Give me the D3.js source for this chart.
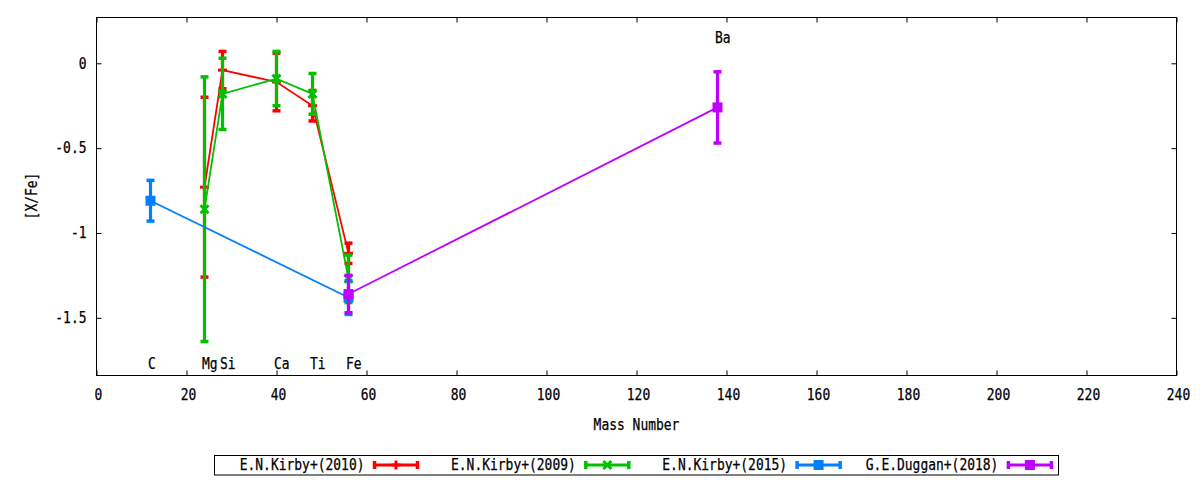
<!DOCTYPE html>
<html lang="en">
  <head>
    <meta charset="UTF-8" />
    <title>[X/Fe] vs Mass Number</title>
    <script src="https://cdn.jsdelivr.net/npm/d3@7"></script>
    <style>
      body { margin: 0; background: #fff; }
      svg { display: block; }
      text { font-family: "DejaVu Sans Mono", monospace; font-size: 15px; fill: #000; stroke: #000; stroke-width: 0.25px; }
    </style>
  </head>
  <body>
    <svg width="1200" height="480"></svg>
    <script>
      // element labels, placed at their mass numbers
      const elements = ["C", "Mg", "Si", "Ca", "Ti", "Fe", "Ba"];
      const elementMass = [12, 24, 28, 40, 48, 56, 138];

      // E.N.Kirby+(2010)
      const kirby2010Mass = [24, 28, 40, 48, 56];
      const kirby2010Val = [-0.73, -0.04, -0.11, -0.25, -1.12];
      const kirby2010Err = [0.53, 0.11, 0.17, 0.09, 0.06];

      // E.N.Kirby+(2009)
      const kirby2009Mass = [24, 28, 40, 48, 56];
      const kirby2009Val = [-0.86, -0.18, -0.09, -0.18, -1.27];
      const kirby2009Err = [0.78, 0.21, 0.16, 0.12, 0.14];

      // E.N.Kirby+(2015)
      const kirby2015Mass = [12, 56];
      const kirby2015Val = [-0.81, -1.38];
      const kirby2015Err = [0.12, 0.10];

      // G.E.Duggan+(2018)
      const duggan2018Mass = [56, 138];
      const duggan2018Val = [-1.36, -0.26];
      const duggan2018Err = [0.11, 0.21];

      const seriesNames = ["E.N.Kirby+(2010)", "E.N.Kirby+(2009)", "E.N.Kirby+(2015)", "G.E.Duggan+(2018)"];
      const xTicks = d3.range(0, 241, 20);
      const yTicks = [0, -0.5, -1, -1.5];

      const svg = d3.select("svg");
      const plotL = 96.5, plotR = 1176.5, plotT = 17.5, plotB = 375.5;
      const x = d3.scaleLinear().domain([0, 240]).range([plotL, plotR]);
      const y = d3.scaleLinear().domain([-1.84, 0.27]).range([plotB, plotT]);
      const charW = 7.8; // glyph advance of the narrow mono font

      function squeeze(sel) {
        sel.each(function () {
          const t = d3.select(this).text();
          d3.select(this).attr("textLength", t.length * charW).attr("lengthAdjust", "spacingAndGlyphs");
        });
      }

      // axes, ticks pointing inwards on all four sides
      const gx = svg.append("g").attr("transform", `translate(0,${plotB})`)
        .call(d3.axisBottom(x).tickValues(xTicks).tickSize(-5).tickPadding(14).tickFormat(d => String(d)));
      const gy = svg.append("g").attr("transform", `translate(${plotL},0)`)
        .call(d3.axisLeft(y).tickValues(yTicks).tickSize(-5).tickPadding(10).tickFormat(d => String(d)));
      svg.append("g").attr("transform", `translate(0,${plotT})`)
        .call(d3.axisTop(x).tickValues(xTicks).tickSize(-5).tickFormat(""));
      svg.append("g").attr("transform", `translate(${plotR},0)`)
        .call(d3.axisRight(y).tickValues(yTicks).tickSize(-5).tickFormat(""));
      svg.selectAll(".domain").remove();
      svg.selectAll(".tick line").attr("stroke", "#000");
      svg.selectAll(".tick text").attr("fill", "#000");
      svg.selectAll("g").attr("font-family", null).attr("font-size", null);
      squeeze(gx.selectAll("text").attr("x", 1.5));
      squeeze(gy.selectAll("text"));

      svg.append("rect")
        .attr("x", plotL).attr("y", plotT)
        .attr("width", plotR - plotL).attr("height", plotB - plotT)
        .attr("fill", "none").attr("stroke", "#000");

      svg.append("text").attr("x", (plotL + plotR) / 2).attr("y", 430)
        .attr("text-anchor", "middle").text("Mass Number").call(squeeze);
      svg.append("text").attr("transform", "translate(37,196) rotate(-90)")
        .attr("text-anchor", "middle").text("[X/Fe]").call(squeeze);

      // element labels
      svg.append("g").selectAll("text")
        .data(elements)
        .join("text")
        .attr("x", (d, i) => x(elementMass[i]) - 2.5)
        .attr("y", d => d === "Ba" ? y(0.12) : y(-1.8))
        .text(d => d)
        .call(squeeze);

      function drawMarker(g, cx, cy, type, color) {
        if (type === "plus") {
          g.append("line").attr("x1", cx - 4.5).attr("x2", cx + 4.5).attr("y1", cy).attr("y2", cy)
            .attr("stroke", color).attr("stroke-width", 3);
          g.append("line").attr("x1", cx).attr("x2", cx).attr("y1", cy - 4.5).attr("y2", cy + 4.5)
            .attr("stroke", color).attr("stroke-width", 3);
        } else if (type === "cross") {
          g.append("path").attr("d", `M${cx - 4},${cy - 4}L${cx + 4},${cy + 4}M${cx - 4},${cy + 4}L${cx + 4},${cy - 4}`)
            .attr("stroke", color).attr("stroke-width", 3).attr("fill", "none");
        } else {
          g.append("rect").attr("x", cx - 5).attr("y", cy - 5).attr("width", 10).attr("height", 10)
            .attr("fill", color);
        }
      }

      function drawSeries(mass, val, err, color, marker) {
        const g = svg.append("g");
        const pts = mass.map((m, i) => [m, val[i], err[i]]);
        g.append("path")
          .attr("d", d3.line().x(d => x(d[0])).y(d => y(d[1]))(pts))
          .attr("fill", "none").attr("stroke", color).attr("stroke-width", 1.8);
        pts.forEach(d => {
          const cx = x(d[0]);
          const y1 = y(d[1] + d[2]), y2 = y(d[1] - d[2]);
          g.append("line").attr("x1", cx).attr("x2", cx).attr("y1", y1).attr("y2", y2)
            .attr("stroke", color).attr("stroke-width", 3.2);
          [y1, y2].forEach(cy => {
            g.append("line").attr("x1", cx - 4).attr("x2", cx + 4).attr("y1", cy).attr("y2", cy)
              .attr("stroke", color).attr("stroke-width", 3.5);
          });
          drawMarker(g, cx, y(d[1]), marker, color);
        });
      }

      const colors = ["#ff0000", "#00c000", "#0080ff", "#c000ff"];
      const markers = ["plus", "cross", "square", "square"];
      drawSeries(kirby2010Mass, kirby2010Val, kirby2010Err, colors[0], markers[0]);
      drawSeries(kirby2009Mass, kirby2009Val, kirby2009Err, colors[1], markers[1]);
      drawSeries(kirby2015Mass, kirby2015Val, kirby2015Err, colors[2], markers[2]);
      drawSeries(duggan2018Mass, duggan2018Val, duggan2018Err, colors[3], markers[3]);

      // legend
      const legend = svg.append("g");
      legend.append("rect").attr("x", 214.5).attr("y", 455.5).attr("width", 844).attr("height", 19.5)
        .attr("fill", "#fff").attr("stroke", "#000");
      seriesNames.forEach((name, i) => {
        const tx = 364.5 + i * 211.3;
        const ly = 465;
        legend.append("text").attr("x", tx).attr("y", 470).attr("text-anchor", "end").text(name).call(squeeze);
        const x1 = tx + 10, x2 = tx + 53;
        legend.append("line").attr("x1", x1).attr("x2", x2).attr("y1", ly).attr("y2", ly)
          .attr("stroke", colors[i]).attr("stroke-width", 3.2);
        [x1, x2].forEach(cx => {
          legend.append("line").attr("x1", cx).attr("x2", cx).attr("y1", ly - 4).attr("y2", ly + 4)
            .attr("stroke", colors[i]).attr("stroke-width", 3.5);
        });
        drawMarker(legend, (x1 + x2) / 2, ly, markers[i], colors[i]);
      });
    </script>
  </body>
</html>
